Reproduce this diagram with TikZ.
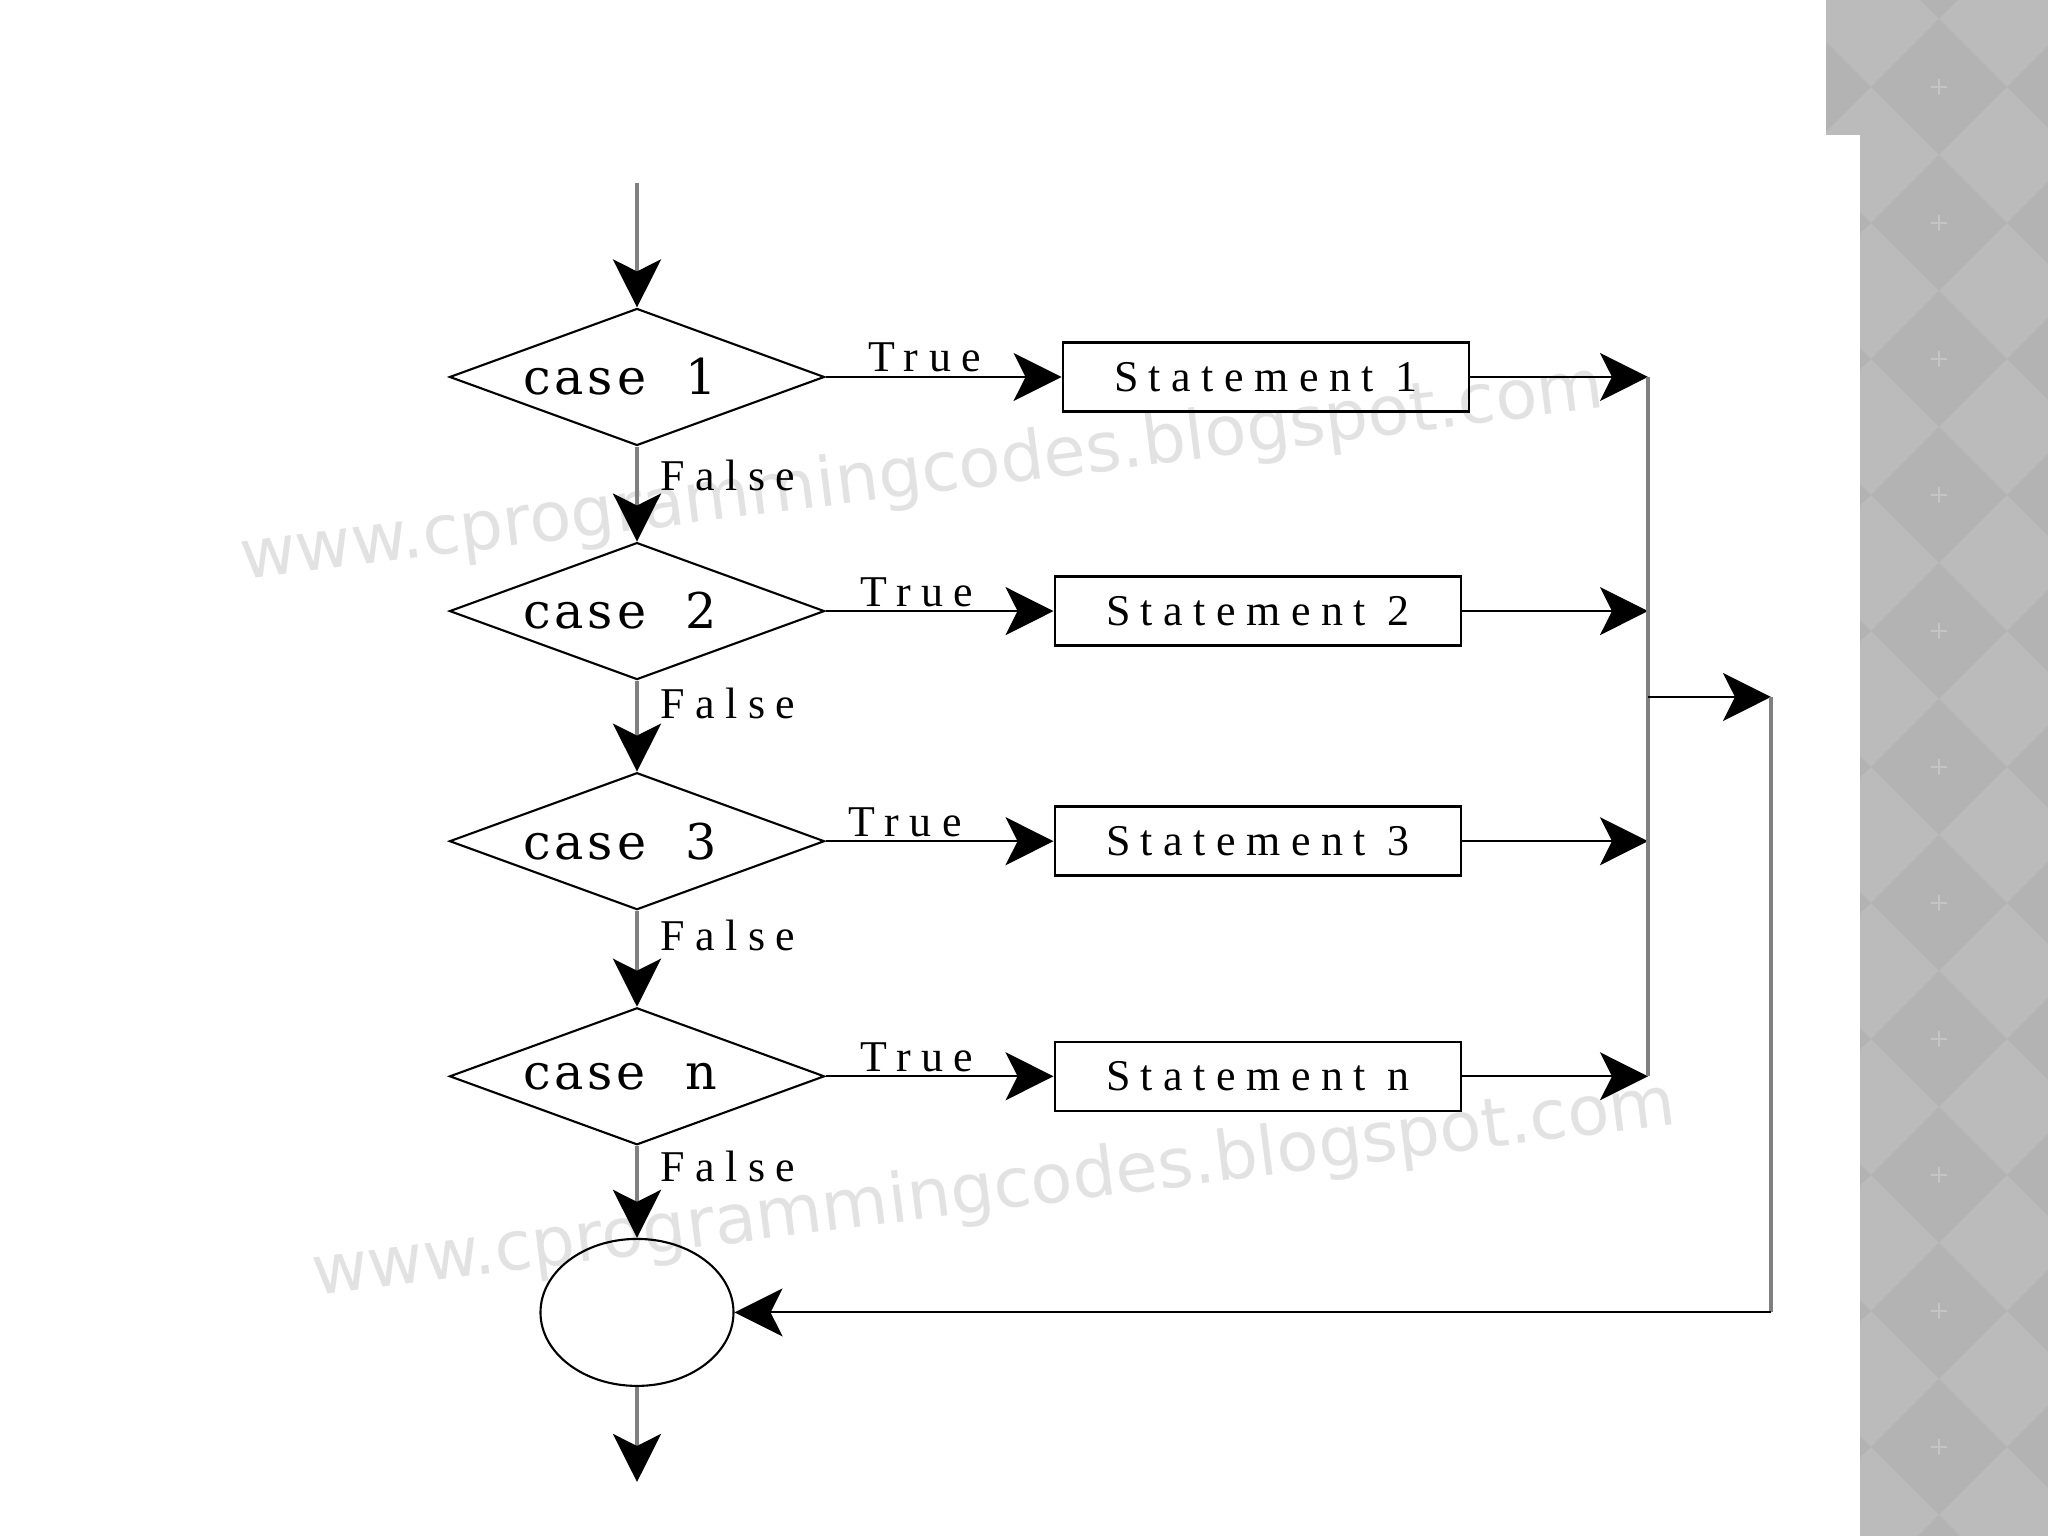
\documentclass[tikz,border=0pt]{standalone}
\usepackage{fontspec}
\usepackage{tikz}
\usetikzlibrary{arrows.meta,positioning,shapes.geometric,calc}
\setmainfont{Liberation Serif}
\newfontfamily\lblfont{Liberation Serif}[LetterSpace=24]
\newfontfamily\casefont{DejaVu Serif}[LetterSpace=8]
\newfontfamily\wmfont{DejaVu Sans}
\definecolor{linegray}{HTML}{808080}
\definecolor{panelA}{HTML}{BBBBBB}
\definecolor{panelB}{HTML}{B3B3B3}
\definecolor{panelStar}{HTML}{C4C4C4}
\definecolor{wmgray}{HTML}{E2E2E2}

\begin{document}
\begin{tikzpicture}[
  casebox/.style={draw,diamond,aspect=2.74,inner sep=0pt,minimum width=3.75cm,
                  minimum height=1.37cm,line width=0.6pt,
                  font=\casefont\fontsize{14}{16}\selectfont,
                  execute at end node=\hspace*{0.34cm}},
  stmtbox/.style={draw,rectangle,minimum width=4.06cm,minimum height=0.69cm,
                  line width=0.7pt,font=\lblfont\fontsize{12.5}{14}\selectfont},
  lbl/.style={font=\lblfont\fontsize{12.5}{14}\selectfont,inner sep=1pt},
  wm/.style={font=\wmfont\fontsize{19.5}{20}\selectfont,text=wmgray,rotate=7.2},
  tip/.style={-{Stealth[length=0.48cm,width=0.48cm,inset=0.12cm,color=black]}},
  arr/.style={tip,line width=0.6pt},
  varr/.style={tip,line width=1.1pt,draw=linegray},
  bus/.style={line width=1.1pt,draw=linegray}
]
\useasboundingbox (0,0) rectangle (20.48,15.36);

% slide background
\begin{scope}
  \clip (18.60,0) rectangle (20.48,15.36) (18.26,14.01) rectangle (20.48,15.36);
  \fill[panelA] (18.26,0) rectangle (20.48,15.36);
  \foreach \i in {-1,0,1}
    \foreach \j in {-1,...,11} {
      \fill[panelB] ({19.39+1.36*\i},{14.49-1.36*\j+0.68}) -- ++(0.68,-0.68)
        -- ++(-0.68,-0.68) -- ++(-0.68,0.68) -- cycle;
      \draw[panelStar,line width=0.5pt] ({19.39+1.36*\i-0.08},{14.49-1.36*\j})
        -- ++(0.16,0) ++(-0.08,-0.08) -- ++(0,0.16);
    }
\end{scope}

\node[wm] (wm1) at (9.22,10.61) {www.cprogrammingcodes.blogspot.com};
\node[wm] (wm2) at (9.94,3.45) {www.cprogrammingcodes.blogspot.com};

\coordinate (start) at (6.37,13.53);
\node[casebox] (c1) at (6.37,11.59) {case~~1};
\node[casebox,below=0.95cm of c1] (c2) {case~~2};
\node[casebox,below=0.91cm of c2] (c3) {case~~3};
\node[casebox,below=0.96cm of c3] (cn) {case~~n};
\node[draw,ellipse,minimum width=1.93cm,minimum height=1.47cm,line width=0.6pt,
      below=0.92cm of cn] (join) {};
\coordinate[below=0.95cm of join] (stop);

\node[stmtbox,right=2.36cm of c1] (s1) {Statement 1};
\node[stmtbox,right=2.28cm of c2] (s2) {Statement 2};
\node[stmtbox,right=2.28cm of c3] (s3) {Statement 3};
\node[stmtbox,right=2.28cm of cn] (sn) {Statement n};

\coordinate (bx) at (16.48,0);
\coordinate (j1) at (16.48,8.39);
\coordinate (j2) at (17.71,8.39);

\draw[varr] (start) -- (c1.north);
\draw[varr] (c1.south) -- node[lbl,right=0.18cm,pos=0.3] (f1) {False} (c2.north);
\draw[varr] (c2.south) -- node[lbl,right=0.18cm,pos=0.25] (f2) {False} (c3.north);
\draw[varr] (c3.south) -- node[lbl,right=0.18cm,pos=0.26] (f3) {False} (cn.north);
\draw[varr] (cn.south) -- node[lbl,right=0.18cm,pos=0.22] (fn) {False} (join.north);
\draw[varr] (join.south) -- (stop);

\draw[arr] (c1.east) -- node[lbl,above,pos=0.42] (t1) {True} (s1.west);
\draw[arr] (c2.east) -- node[lbl,above,pos=0.40] (t2) {True} (s2.west);
\draw[arr] (c3.east) -- node[lbl,above,pos=0.35] (t3) {True} (s3.west);
\draw[arr] (cn.east) -- node[lbl,above,pos=0.40] (tn) {True} (sn.west);

\draw[arr] (s1.east) -- (s1.east -| bx);
\draw[arr] (s2.east) -- (s2.east -| bx);
\draw[arr] (s3.east) -- (s3.east -| bx);
\draw[arr] (sn.east) -- (sn.east -| bx);
\draw[bus] (s1.east -| bx) -- (sn.east -| bx);
\draw[arr] (j1) -- (j2);
\draw[bus] (j2) -- (j2 |- join.east);
\draw[arr] (j2 |- join.east) -- (join.east);
\end{tikzpicture}
\end{document}
